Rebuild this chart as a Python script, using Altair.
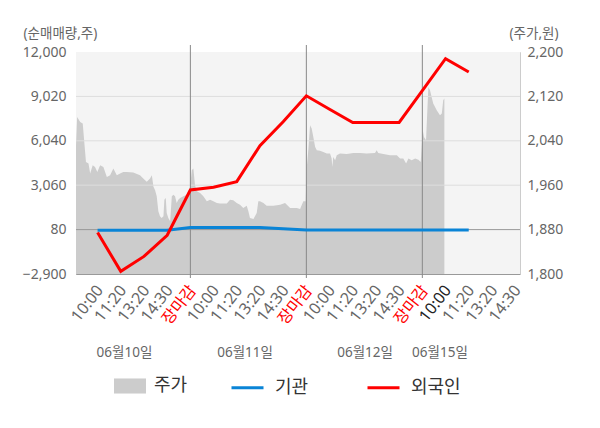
import altair as alt
import pandas as pd

# ---- data ----
slot_labels = ["10:00", "11:20", "13:20", "14:30", "장마감"] * 3 + ["10:00", "11:20", "13:20", "14:30"]
slot_pos = list(range(1, 20))

flow_pos = list(range(1, 18))
foreign = [-120, -2720, -1720, -300, 2740, 2920, 3300, 5710, 7320, 9060,
           8160, 7270, 7270, 7270, 9410, 11550, 10660]
institution = [40, 40, 40, 40, 215, 215, 215, 215, 130, 60,
               60, 60, 60, 60, 60, 60, 60]

price_t = [0.07, 0.12, 0.25, 0.36, 0.42, 0.50, 0.61, 0.68, 0.79, 0.89,
           0.99, 1.11, 1.25, 1.40, 1.54, 1.68, 1.83, 1.97, 2.11, 2.26,
           2.54, 2.83, 2.97, 3.12, 3.26, 3.34, 3.41, 3.48, 3.55, 3.62,
           3.69, 3.76, 3.84, 3.88, 3.94, 3.98, 4.05, 4.13, 4.20, 4.27,
           4.34, 4.41, 4.48, 4.56, 4.70, 4.84, 4.91, 4.99,
           5.06, 5.13, 5.20, 5.28, 5.42, 5.56, 5.71, 5.85, 5.99, 6.14,
           6.28, 6.57, 6.71, 6.85, 7.00, 7.14, 7.28, 7.43, 7.50, 7.57,
           7.72, 7.86, 7.93, 8.00, 8.15, 8.29, 8.58, 8.87, 9.08, 9.16,
           9.30, 9.59, 9.73, 9.87, 9.97,
           10.02, 10.09, 10.16, 10.23, 10.30, 10.38, 10.45, 10.59, 10.73, 10.88,
           11.02, 11.09, 11.12, 11.16, 11.24, 11.31, 11.45, 11.74, 12.03, 12.31,
           12.60, 12.96, 13.03, 13.10, 13.32, 13.61, 13.90, 14.04, 14.18, 14.30,
           14.40, 14.54, 14.69, 14.83, 14.93,
           15.02, 15.07, 15.16, 15.26, 15.33, 15.47, 15.62, 15.76, 15.84, 15.90, 15.95]
price_v = [2032, 2083, 2074, 2071, 2041, 2002, 1999, 1981, 1996, 1993,
           1984, 1996, 1993, 1975, 1978, 1990, 1978, 1981, 1984, 1984,
           1983, 1978, 1972, 1966, 1972, 1978, 1957, 1951, 1940, 1913,
           1904, 1901, 1904, 1934, 1937, 1910, 1901, 1895, 1940, 1943,
           1940, 1928, 1934, 1937, 1940, 1943, 1949, 1957,
           1987, 1990, 1960, 1949, 1946, 1940, 1931, 1934, 1931, 1928,
           1927, 1927, 1934, 1933, 1928, 1925, 1919, 1923, 1913, 1901,
           1899, 1910, 1931, 1931, 1928, 1923, 1923, 1925, 1928, 1925,
           1919, 1919, 1917, 1931, 1931,
           1993, 2026, 2068, 2062, 2047, 2029, 2023, 2022, 2020, 2017,
           2017, 2008, 1993, 2011, 2005, 2014, 2017, 2016, 2018, 2018,
           2017, 2018, 2023, 2018, 2016, 2014, 2014, 2008, 2008, 1999,
           2008, 2005, 2008, 2006, 2002,
           2059, 2047, 2041, 2137, 2131, 2107, 2095, 2086, 2089, 2113, 2116]

dates = ["06월10일", "06월11일", "06월12일", "06월15일"]
date_pos = [2.16, 7.36, 12.53, 15.76]
day_breaks = [5, 10, 15]

left_ticks = [-2900, 80, 3060, 6040, 9020, 12000]
right_ticks = [1800, 1880, 1960, 2040, 2120, 2200]
light_grid = [3060, 6040, 9020]
base_grid = [80]

FONT = "Noto Sans, Noto Sans CJK KR"
W, H = 444, 222
X_DOM = [0.07, 19.21]
L_DOM = [-2900, 12000]
R_DOM = [1800, 2200]

# ---- frames ----
flow_df = pd.DataFrame({
    "t": flow_pos * 2,
    "v": institution + foreign,
    "series": ["기관"] * len(institution) + ["외국인"] * len(foreign),
})
price_df = pd.DataFrame({"t": price_t, "p": price_v, "s": ["주가"] * len(price_t)})
date_df = pd.DataFrame({"d": date_pos, "label": dates})
break_df = pd.DataFrame({"b": day_breaks})
light_df = pd.DataFrame({"g": light_grid})
base_df = pd.DataFrame({"g": base_grid})
bg_df = pd.DataFrame({"x0": [X_DOM[0]], "x1": [X_DOM[1]], "y0": [L_DOM[0]], "y1": [L_DOM[1]]})

xscale = alt.Scale(domain=X_DOM, nice=False, zero=False)


def lscale():
    return alt.Scale(domain=L_DOM, nice=False, zero=False)


rscale = alt.Scale(domain=R_DOM, nice=False, zero=False)

label_js = "[" + ",".join("'" + s + "'" for s in slot_labels) + "]"
xaxis = alt.Axis(
    values=slot_pos, tickCount=40, labelExpr=label_js + "[datum.value-1]",
    title=None, grid=False, ticks=False, domainColor="#999999",
    labelAngle=308, labelAlign="right", labelBaseline="middle",
    labelPadding=13, labelOffset=2, labelFontSize=16, labelFont=FONT, labelOverlap=False,
    labelBound=False, labelFlush=False, labelSeparation=0,
    labelColor={"condition": [{"test": "datum.value % 5 == 0", "value": "#ff0000"},
                              {"test": "datum.value == 16", "value": "#222222"}],
                "value": "#666666"},
)

left_axis = alt.Axis(
    values=left_ticks, format=",.0f", orient="left", grid=False, ticks=False,
    labelPadding=10, labelFontSize=14, labelColor="#666666", labelFont=FONT,
    labelFlush=False, labelBound=False, labelOverlap=False,
    domainColor="#999999",
    title="(순매매량,주)", titleAngle=0, titleX=-53, titleY=-19,
    titleAlign="left", titleBaseline="middle", titleFontWeight="normal",
    titleFontSize=13.5, titleColor="#666666", titleFont=FONT,
)
right_axis = alt.Axis(
    values=right_ticks, format=",.0f", orient="right", grid=False, ticks=False,
    labelPadding=7, labelFontSize=14, labelColor="#666666", labelFont=FONT,
    labelFlush=False, labelBound=False, labelOverlap=False,
    domainColor="#cccccc",
    title="(주가,원)", titleAngle=0, titleX=-11, titleY=-19,
    titleAlign="left", titleBaseline="middle", titleFontWeight="normal",
    titleFontSize=13.5, titleColor="#666666", titleFont=FONT,
)

bg = alt.Chart(bg_df).mark_rect(color="#f4f4f4").encode(
    x=alt.X("x0:Q", scale=xscale, axis=xaxis),
    x2="x1:Q",
    y=alt.Y("y0:Q", scale=lscale(), axis=None),
    y2="y1:Q",
)

area = alt.Chart(price_df).mark_area(interpolate="linear", opacity=1).encode(
    x=alt.X("t:Q", scale=xscale),
    y=alt.Y("p:Q", scale=rscale, axis=right_axis),
    y2=alt.datum(R_DOM[0]),
    fill=alt.Fill("s:N", scale=alt.Scale(domain=["주가"], range=["#cccccc"]),
                  legend=alt.Legend(title=None, orient="none", legendX=38, legendY=318,
                                    symbolType="M-1,-0.47H1V0.47H-1Z", symbolSize=1024,
                                    symbolStrokeWidth=0, symbolOpacity=1,
                                    labelFontSize=18, labelColor="#333333", labelFont=FONT,
                                    labelOffset=8, padding=0)),
)

light_rules = alt.Chart(light_df).mark_rule(color="#dddddd", strokeWidth=1).encode(
    y=alt.Y("g:Q", scale=lscale(), axis=None)
)
base_rule = alt.Chart(base_df).mark_rule(color="#999999", strokeWidth=1).encode(
    y=alt.Y("g:Q", scale=lscale(), axis=None)
)
day_rules = alt.Chart(break_df).mark_rule(color="#888888", strokeWidth=1).encode(
    x=alt.X("b:Q", scale=xscale),
    y=alt.value(-7), y2=alt.value(H + 4),
)

lines = alt.Chart(flow_df).mark_line(strokeWidth=3).encode(
    x=alt.X("t:Q", scale=xscale),
    y=alt.Y("v:Q", scale=lscale(), axis=left_axis),
    stroke=alt.Stroke("series:N",
                      scale=alt.Scale(domain=["기관", "외국인"], range=["#0a84d6", "#ff0000"]),
                      legend=alt.Legend(title=None, orient="none", direction="horizontal",
                                        legendX=154, legendY=318, symbolType="stroke",
                                        symbolSize=1024, symbolStrokeWidth=3,
                                        labelFontSize=18, labelColor="#333333", labelFont=FONT,
                                        labelOffset=10, columnPadding=52, padding=0)),
    order=alt.Order("t:Q"),
)

date_text = alt.Chart(date_df).mark_text(fontSize=13.5, color="#666666", font=FONT).encode(
    x=alt.X("d:Q", scale=xscale),
    y=alt.value(H + 79),
    text="label:N",
)

chart = alt.layer(bg, area, light_rules, base_rule, day_rules, lines, date_text).resolve_scale(
    y="independent"
).properties(
    width=W, height=H,
    padding={"left": 68, "top": 44, "right": 72, "bottom": 146},
    autosize=alt.AutoSizeParams(type="none"),
).configure_view(stroke=None).configure(font=FONT).configure_axis(
    labelOverlap=False, labelSeparation=0
)

chart.save("out.html", embed_options={"renderer": "svg", "actions": False})
